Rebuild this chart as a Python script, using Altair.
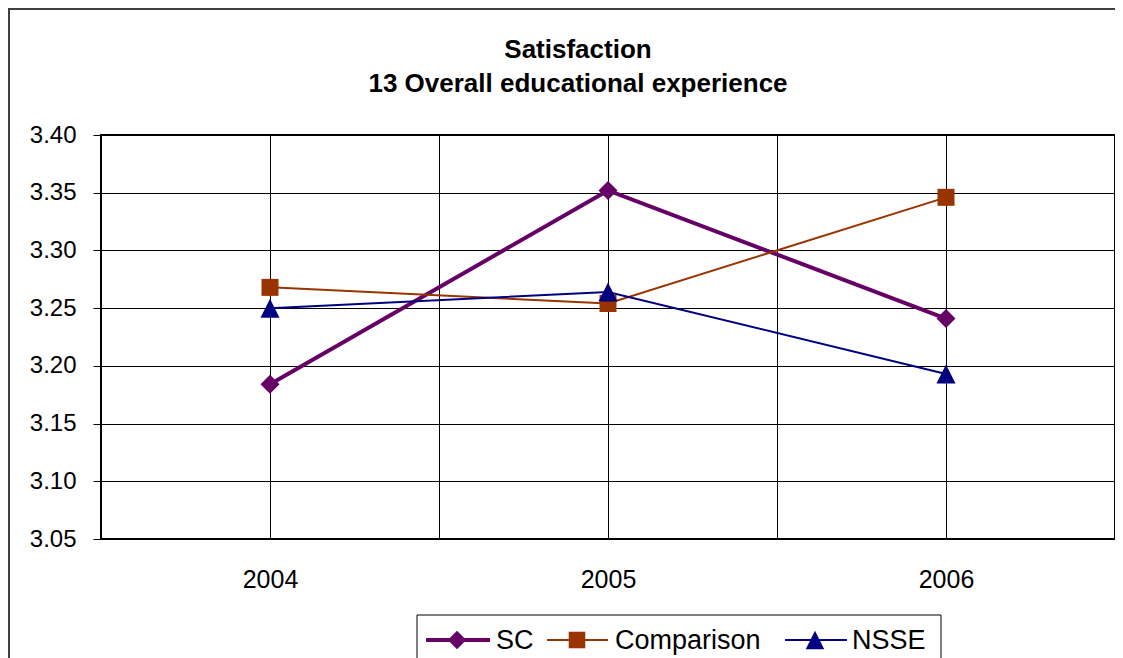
import altair as alt
import pandas as pd

# ---- data ----
years = [2004, 2005, 2006]
series_names = ["SC", "Comparison", "NSSE"]
sc_values = [3.184, 3.352, 3.241]
comparison_values = [3.268, 3.254, 3.346]
nsse_values = [3.250, 3.264, 3.193]
title_lines = ["Satisfaction", "13 Overall educational experience"]
y_ticks = [3.05, 3.10, 3.15, 3.20, 3.25, 3.30, 3.35, 3.40]
x_grid = [2003.5, 2004, 2004.5, 2005, 2005.5, 2006, 2006.5]

all_values = [sc_values, comparison_values, nsse_values]

# ---- styles ----
colors = ["#660066", "#993300", "#000080"]
shapes = ["diamond", "square", "M0,-1L1,1L-1,1Z"]
marker_sizes = [361, 289, 361]
line_widths = [4, 2, 2]
FONT = "Liberation Sans"

W, H = 1014, 404

x_scale = alt.Scale(domain=[2003.5, 2006.5], nice=False, zero=False)
y_scale = alt.Scale(domain=[3.05, 3.40], nice=False, zero=False)

x_enc = alt.X(
    "year:Q",
    scale=x_scale,
    axis=alt.Axis(
        values=x_grid,
        labelExpr="datum.value % 1 === 0 ? format(datum.value, 'd') : ''",
        grid=True, gridColor="#000", gridWidth=1,
        ticks=False, tickSize=0, domain=False,
        labelFont=FONT, labelFontSize=25, labelColor="#000",
        labelPadding=28, labelOverlap=False, title=None,
    ),
)
y_enc = alt.Y(
    "value:Q",
    scale=y_scale,
    axis=alt.Axis(
        values=y_ticks, format=".2f",
        grid=True, gridColor="#000", gridWidth=1,
        ticks=True, tickSize=8, tickColor="#000", tickWidth=1,
        domain=False,
        labelFont=FONT, labelFontSize=24, labelColor="#000",
        labelPadding=17, labelOverlap=False, title=None,
    ),
)

layers = []

# outer chart frame
frame = alt.Chart(pd.DataFrame({"a": [0]})).mark_rect(
    fill="transparent", stroke="#404040", strokeWidth=2
).encode(x=alt.value(-92), x2=alt.value(1100), y=alt.value(-126), y2=alt.value(700))
layers.append(frame)

# data series
for name, vals, c, shp, sz, lw in zip(series_names, all_values, colors, shapes, marker_sizes, line_widths):
    df = pd.DataFrame({"year": years, "value": vals, "series": name})
    line = alt.Chart(df).mark_line(color=c, strokeWidth=lw, clip=False).encode(x=x_enc, y=y_enc)
    pts = alt.Chart(df).mark_point(
        shape=shp, size=sz, filled=True, fill=c, color=c, opacity=1, strokeWidth=0
    ).encode(x=x_enc, y=y_enc)
    layers += [line, pts]

# title
title_y = [-77, -43.5]
for txt, ty in zip(title_lines, title_y):
    t = alt.Chart(pd.DataFrame({"t": [txt]})).mark_text(
        font=FONT, fontSize=26, fontWeight="bold", color="#000",
        align="center", baseline="alphabetic"
    ).encode(x=alt.value(477), y=alt.value(ty), text="t:N")
    layers.append(t)

# legend (custom, Excel style)
legend_box = alt.Chart(pd.DataFrame({"a": [0]})).mark_rect(
    fill="white", stroke="#000", strokeWidth=1
).encode(x=alt.value(316), x2=alt.value(840), y=alt.value(480), y2=alt.value(560))
layers.append(legend_box)

leg_line_x = [(325, 389), (446, 507), (684, 746)]
leg_sym_x = [356, 476, 714]
leg_text_x = [395, 514, 751]
leg_y = 505
for name, c, shp, sz, lw, (lx1, lx2), sx, tx in zip(
    series_names, colors, shapes, marker_sizes, line_widths, leg_line_x, leg_sym_x, leg_text_x
):
    d = pd.DataFrame({"name": [name]})
    r = alt.Chart(d).mark_rule(color=c, strokeWidth=lw).encode(
        x=alt.value(lx1), x2=alt.value(lx2), y=alt.value(leg_y)
    )
    p = alt.Chart(d).mark_point(
        shape=shp, size=sz * 0.95, filled=True, fill=c, color=c, opacity=1, strokeWidth=0
    ).encode(x=alt.value(sx), y=alt.value(leg_y))
    t = alt.Chart(d).mark_text(
        font=FONT, fontSize=27, color="#000", align="left", baseline="alphabetic"
    ).encode(x=alt.value(tx), y=alt.value(leg_y + 8.5), text="name:N")
    layers += [r, p, t]

chart = alt.layer(*layers).properties(
    width=W, height=H,
    autosize=alt.AutoSizeParams(type="none"),
    padding={"left": 93, "top": 127, "right": 0, "bottom": 122},
    background="white",
).configure_view(stroke="#000", strokeWidth=2)

chart.save("out.html", embed_options={"renderer": "svg", "actions": False})
